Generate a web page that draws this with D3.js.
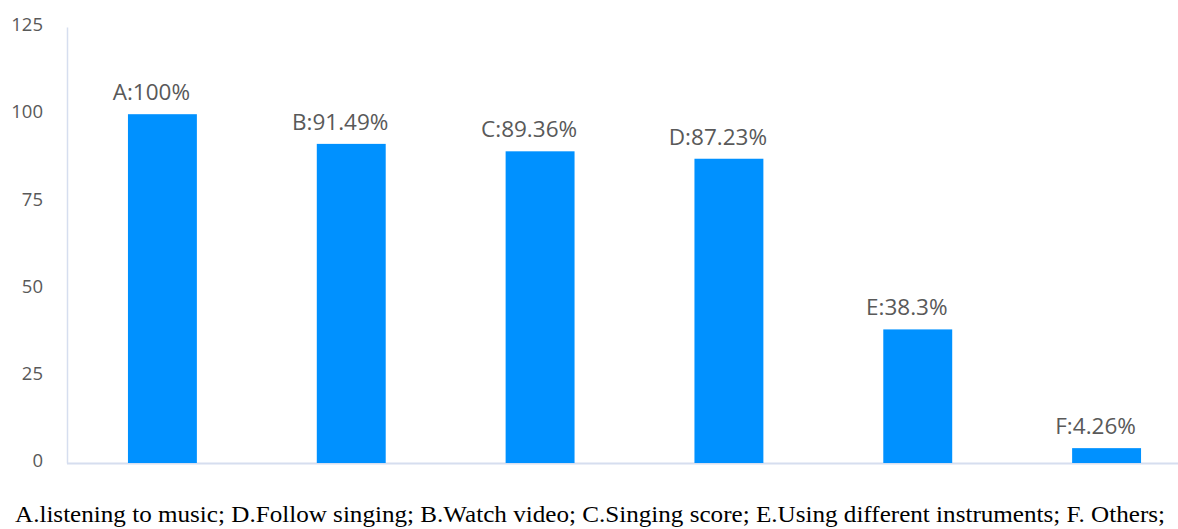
<!DOCTYPE html>
<html>
<head>
<meta charset="utf-8">
<script src="https://cdn.jsdelivr.net/npm/d3@7"></script>
<style>
  body { margin: 0; background: #fff; }
  svg { display: block; }
</style>
</head>
<body>
<svg id="chart" width="1178" height="529"></svg>
<script>
// chart data
var categories = ["A", "B", "C", "D", "E", "F"];
var values = [100, 91.49, 89.36, 87.23, 38.3, 4.26];
var labels = ["A:100%", "B:91.49%", "C:89.36%", "D:87.23%", "E:38.3%", "F:4.26%"];
var yTicks = [0, 25, 50, 75, 100, 125];
var caption = "A.listening to music; D.Follow singing; B.Watch video; C.Singing score; E.Using different instruments; F. Others;";

var svg = d3.select("svg#chart");

// scales
var x = d3.scaleBand()
    .domain(categories)
    .range([68, 1201])
    .paddingInner(0.635)
    .paddingOuter(0.3175);

var y = d3.scaleLinear()
    .domain([0, 125])
    .range([463, 27]);

// y axis
var yAxis = svg.append("g")
    .attr("transform", "translate(67,0)")
    .call(d3.axisLeft(y).tickValues(yTicks).tickSize(0).tickPadding(24));

yAxis.select(".domain").attr("stroke", "#d6deef").attr("stroke-width", 1.5);
yAxis.selectAll("text")
    .attr("fill", "#595959")
    .attr("dy", "0.2em")
    .style("font-family", "'Open Sans', 'Noto Sans', sans-serif")
    .style("font-size", "18.5px");

// x axis baseline
svg.append("line")
    .attr("x1", 67).attr("x2", 1178)
    .attr("y1", y(0) + 0.5).attr("y2", y(0) + 0.5)
    .attr("stroke", "#d6deef")
    .attr("stroke-width", 2);

// bars
svg.append("g")
    .selectAll("rect")
    .data(values)
    .enter().append("rect")
    .attr("x", function(d, i) { return x(categories[i]); })
    .attr("y", function(d) { return y(d); })
    .attr("width", x.bandwidth())
    .attr("height", function(d) { return y(0) - y(d); })
    .attr("fill", "#0091ff");

// value labels (sit a little left of the bar centre, as in the original)
svg.append("g")
    .selectAll("text")
    .data(values)
    .enter().append("text")
    .attr("x", function(d, i) { return x(categories[i]) + x.bandwidth() / 2 - 11; })
    .attr("y", function(d) { return y(d) - 14; })
    .attr("text-anchor", "middle")
    .attr("fill", "#595959")
    .style("font-family", "'Open Sans', 'Noto Sans', sans-serif")
    .style("font-size", "22.5px")
    .text(function(d, i) { return labels[i]; });

// caption under the chart
svg.append("text")
    .attr("x", 15)
    .attr("y", 522)
    .attr("fill", "#000")
    .attr("textLength", 1150)
    .attr("lengthAdjust", "spacingAndGlyphs")
    .style("font-family", "'Liberation Serif', 'Times New Roman', serif")
    .style("font-size", "23px")
    .text(caption);
</script>
</body>
</html>
